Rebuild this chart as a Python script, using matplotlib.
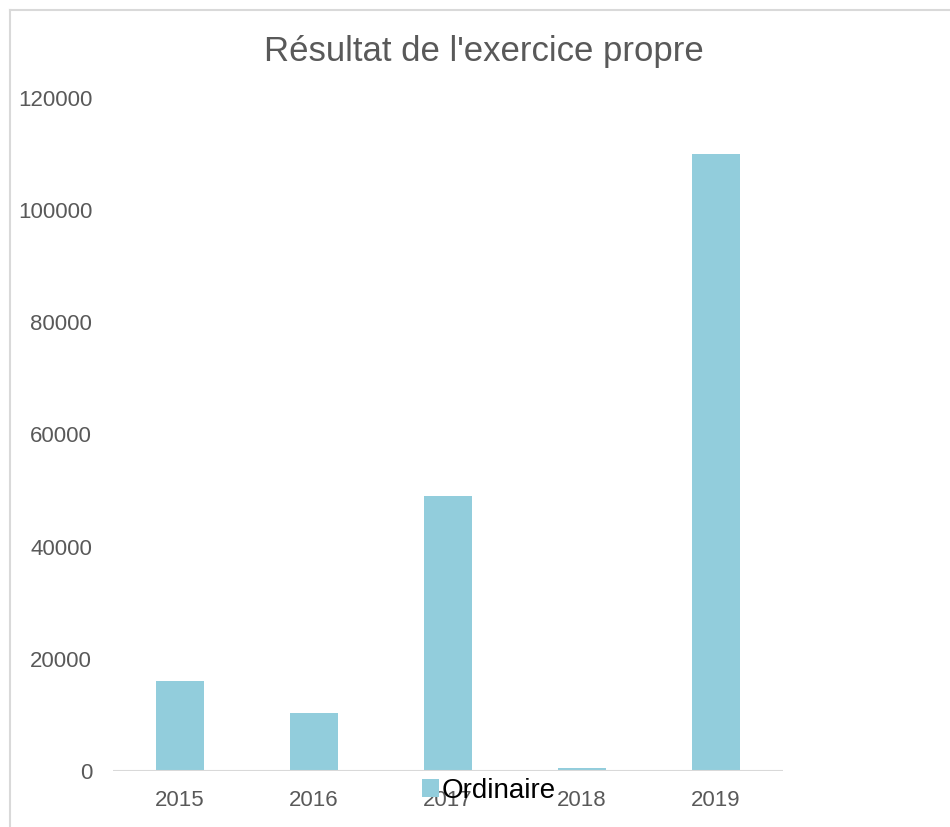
import matplotlib
matplotlib.use("Agg")
import matplotlib.pyplot as plt
from matplotlib.lines import Line2D

years = ["2015", "2016", "2017", "2018", "2019"]
ordinaire = [16000, 10300, 49000, 500, 110000]
yticks = [0, 20000, 40000, 60000, 80000, 100000, 120000]

plt.rcParams['font.family'] = ['Liberation Sans', 'DejaVu Sans']

fig = plt.figure(figsize=(9.5, 8.27), dpi=100)
W, H = 950, 827
ax = fig.add_axes([113 / W, 1 - 771 / H, 670 / W, (771 - 98) / H])

x = list(range(len(years)))
bars = ax.bar(x, ordinaire, width=0.36, color="#92CDDC", label="Ordinaire", zorder=2)
ax.set_xlim(-0.5, len(years) - 0.5)
ax.set_ylim(0, 120000)
ax.set_yticks(yticks)
ax.set_yticklabels([str(v) for v in yticks])
ax.set_xticks(x)
ax.set_xticklabels(years)
for s in ax.spines.values():
    s.set_visible(False)
ax.axhline(0, color="#d9d9d9", lw=1.5, zorder=3)
ax.tick_params(axis="both", length=0, labelsize=16, labelcolor="#595959")
ax.tick_params(axis="y", pad=15)
ax.tick_params(axis="x", pad=14)

fig.text(484 / W, 1 - 52 / H, "Résultat de l'exercice propre", ha="center", va="center",
         fontsize=25, color="#595959")

leg = fig.legend(handles=[bars], labels=["Ordinaire"], loc="center",
                 bbox_to_anchor=(489 / W, 1 - 791 / H), frameon=False,
                 fontsize=20, handlelength=0.6, handleheight=0.6, handletextpad=0.1,
                 borderpad=0, borderaxespad=0)
for t in leg.get_texts():
    t.set_color("black")

# outer border
fig.add_artist(Line2D([10 / W, 1], [1 - 10 / H, 1 - 10 / H], color="#d9d9d9", lw=1.5,
                      transform=fig.transFigure))
fig.add_artist(Line2D([10 / W, 10 / W], [0, 1 - 10 / H], color="#d9d9d9", lw=1.5,
                      transform=fig.transFigure))

fig.savefig("out.png", dpi=100)
